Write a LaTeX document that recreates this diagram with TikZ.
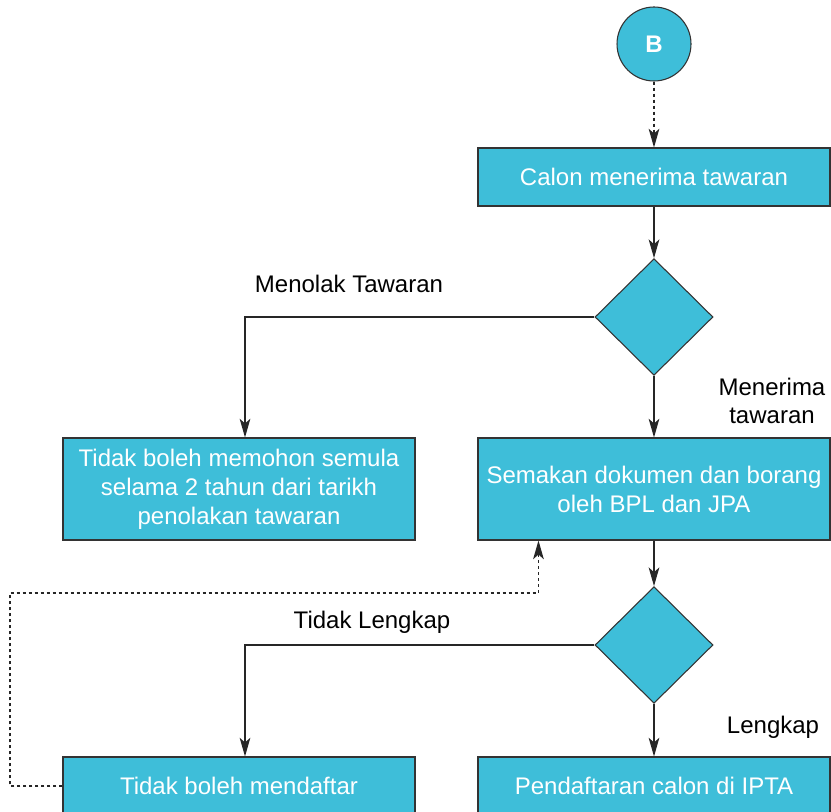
\documentclass[tikz,border=0pt]{standalone}
\usepackage{fontspec}
\setmainfont{Liberation Sans}
\usetikzlibrary{shapes.geometric,arrows.meta,calc}
\definecolor{boxfill}{RGB}{62,190,217}
\definecolor{edge}{RGB}{51,51,51}
\begin{document}
\begin{tikzpicture}[x=0.75pt,y=-0.75pt,
  box/.style={draw=edge,line width=0.8pt,fill=boxfill,text=white,align=center,
    font=\fontsize{18pt}{21.75pt}\selectfont,inner sep=0pt,
    minimum width=264pt,minimum height=43.5pt},
  tallbox/.style={box,minimum height=76.5pt},
  dec/.style={draw=edge,line width=0.8pt,fill=boxfill,diamond,inner sep=0pt,
    minimum width=88.5pt,minimum height=87.5pt},
  conn/.style={draw=black!85,line width=1pt,-{Stealth[length=14pt,width=8pt,inset=3.5pt]}},
  dconn/.style={conn,dash pattern=on 2.5pt off 2pt},
  lbl/.style={font=\fontsize{18pt}{21pt}\selectfont,align=center,text=black}]
\clip (0,0) rectangle (831,812);
\fill[white] (0,0) rectangle (831,812);
\node[circle,draw=edge,line width=0.8pt,fill=boxfill,text=white,inner sep=0pt,
  minimum size=55.5pt,font=\fontsize{18pt}{20pt}\selectfont\bfseries] (B) at (654,44) {B};
\node[box] (calon) at (654,177) {Calon menerima tawaran};
\node[dec] (d1) at (654,317) {};
\node[tallbox] (left1) at (239,489) {Tidak boleh memohon semula\\selama 2 tahun dari tarikh\\penolakan tawaran};
\node[tallbox] (semak) at (654,489) {Semakan dokumen dan borang\\oleh BPL dan JPA};
\node[dec] (d2) at (654,645) {};
\node[box] (left2) at (239,786) {Tidak boleh mendaftar};
\node[box] (pend) at (654,786) {Pendaftaran calon di IPTA};
\node[lbl] (lmenolak) at (349,284) {Menolak Tawaran};
\node[lbl] (lmenerima) at (772,401) {Menerima\\tawaran};
\node[lbl] (ltidak) at (372,622) {Tidak Lengkap};
\node[lbl] (llengkap) at (773,727) {Lengkap};
\draw[dconn] (B.south) -- (calon.north);
\draw[conn] (calon.south) -- (d1.north);
\draw[conn] (d1.west) -| ($(left1.north)+(6,0)$);
\draw[conn] (d1.south) -- (semak.north);
\draw[conn] (semak.south) -- (d2.north);
\draw[conn] (d2.west) -| ($(left2.north)+(6,0)$);
\draw[conn] (d2.south) -- (pend.north);
\coordinate (fbl) at (10,593);
\draw[dconn] (left2.west) -| (fbl) -| ($(semak.south west)+(61,0)$);
\end{tikzpicture}
\end{document}
